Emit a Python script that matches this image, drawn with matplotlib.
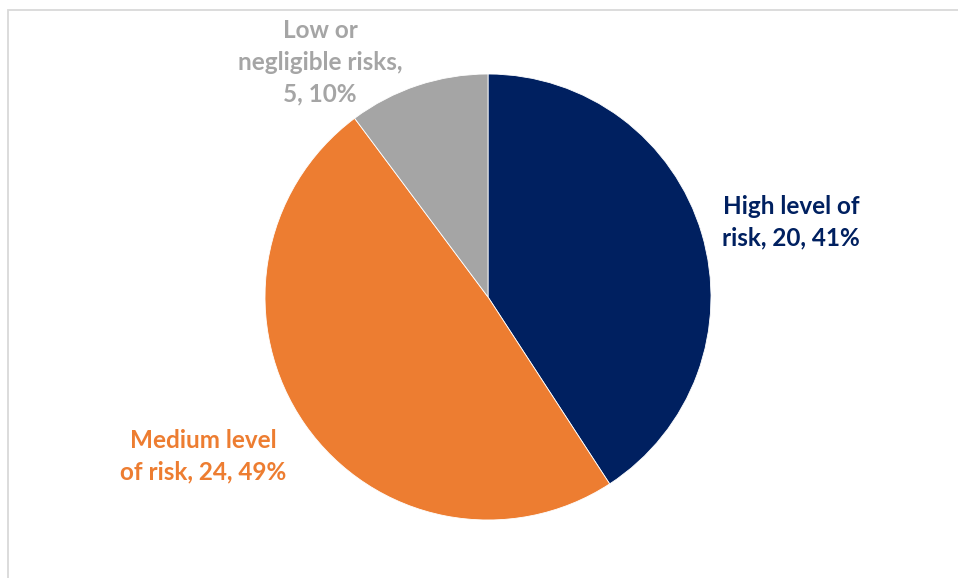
import matplotlib
matplotlib.use("Agg")
import matplotlib.pyplot as plt
from matplotlib.patches import Rectangle

categories = ["High level of\nrisk", "Medium level\nof risk", "Low or\nnegligible risks"]
values = [20, 24, 5]
colors = ["#002060", "#ED7D31", "#A5A5A5"]

W, H = 958, 578
fig = plt.figure(figsize=(W / 100, H / 100), dpi=100)
ax = fig.add_axes([0, 0, 1, 1])
ax.set_xlim(0, W)
ax.set_ylim(0, H)
ax.set_aspect("equal")
ax.axis("off")

# chart frame (extends off the right/bottom)
ax.add_patch(Rectangle((8.5, -5), W + 10, H - 9 + 5 - 0.5, fill=False,
                       edgecolor="#D9D9D9", linewidth=1.3))

cx, cy, r = 488, H - 297, 223
ax.pie(values, colors=colors, startangle=90, counterclock=False,
       center=(cx, cy), radius=r, frame=True,
       wedgeprops=dict(linewidth=0.6, edgecolor="white"))
ax.set_xlim(0, W)
ax.set_ylim(0, H)
ax.axis("off")

total = sum(values)
label_text = [
    "High level of\nrisk, {v}, {p:.0f}%",
    "Medium level\nof risk, {v}, {p:.0f}%",
    "Low or\nnegligible risks,\n{v}, {p:.0f}%",
]
label_pos = [(791, H - 222), (203, H - 456), (320, H - 62)]
for t, v, c, (x, y) in zip(label_text, values, colors, label_pos):
    ax.text(x, y, t.format(v=v, p=100 * v / total), color=c, ha="center",
            va="center", fontsize=17.5, fontweight="bold", family="Lato",
            linespacing=1.45)

fig.savefig("out.png", dpi=100)
